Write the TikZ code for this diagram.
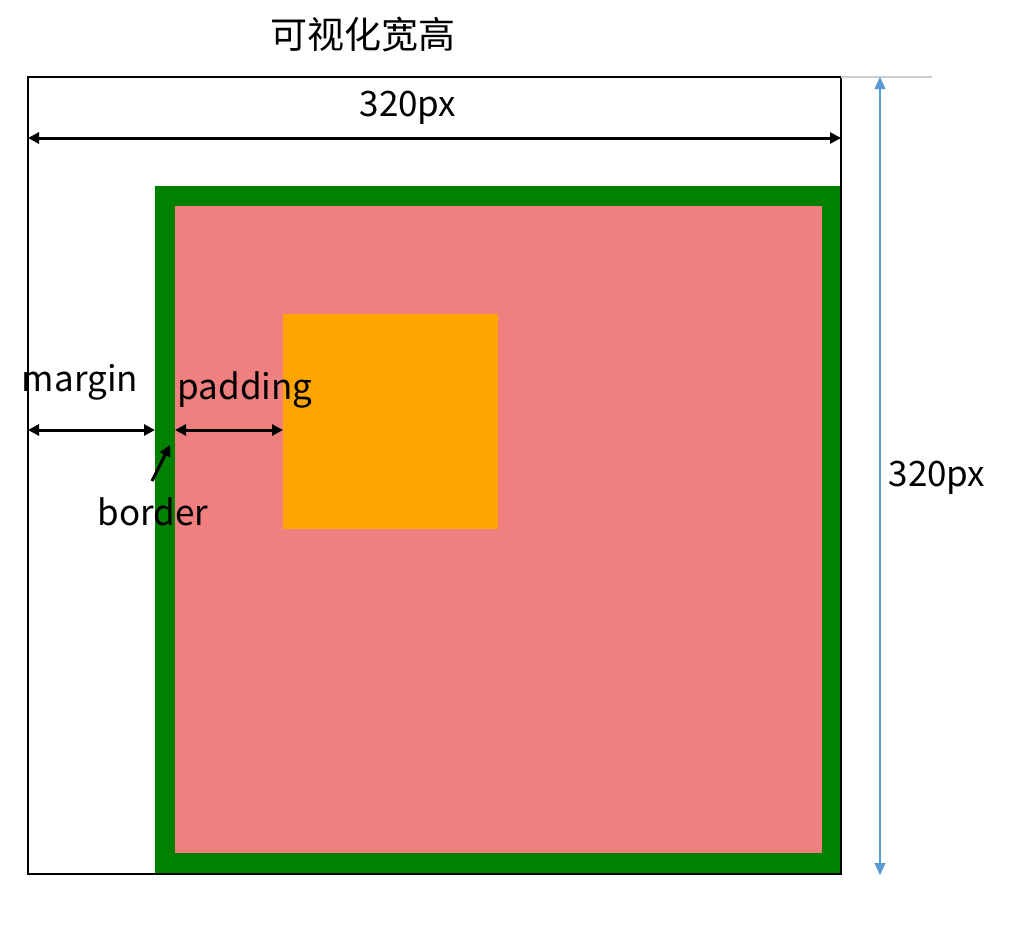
\documentclass[tikz,border=0pt]{standalone}
\usepackage{fontspec}
\setmainfont{Noto Sans CJK SC}
\usetikzlibrary{arrows.meta}
\definecolor{pinkfill}{HTML}{F08080}
\definecolor{greenb}{HTML}{008000}
\definecolor{orangefill}{HTML}{FFA500}
\definecolor{bluearr}{HTML}{5B9BD5}
\tikzset{
  lbl/.style={inner sep=0pt, font=\fontsize{35}{40}\selectfont},
  dim/.style={black, line width=3pt, {Triangle[length=11pt,width=11pt]}-{Triangle[length=11pt,width=11pt]}},
}
\begin{document}
\begin{tikzpicture}[x=1pt,y=-1pt]
\useasboundingbox (0,0) rectangle (1009,930);
% outer viewport
\draw[line width=2pt] (28,77) rectangle (841,874);
% border (green)
\fill[greenb] (155,186) rectangle (842,873);
% padding area
\fill[pinkfill] (175,206) rectangle (822,853);
% content
\fill[orangefill] (283,314) rectangle (498,529);
% redraw right/bottom black edge over green
\draw[line width=2pt] (841,186) -- (841,874) -- (155,874);
% grey guide
\draw[black!20, line width=1.2pt] (841,77) -- (932,77);
% coordinates
\coordinate (vl) at (28,138);
\coordinate (vr) at (841,138);
\coordinate (ml) at (28,430);
\coordinate (mr) at (155,430);
\coordinate (pl) at (175,430);
\coordinate (pr) at (283,430);
\coordinate (bs) at (152,481);
\coordinate (be) at (170,445);
\coordinate (ht) at (880,77);
\coordinate (hb) at (880,875);
% labels
\node[inner sep=0pt, font=\fontsize{37}{42}\selectfont] (title) at (363,35) {可视化宽高};
\node[lbl] (w) at (408,108) {320px};
\node[lbl] (h) at (937,478) {320px};
\node[lbl] (margin) at (80,382) {margin};
\node[lbl] (padding) at (245,390) {padding};
\node[lbl] (border) at (153,512) {border};
% dimension arrows
\draw[dim] (vl) -- (vr);
\draw[dim] (ml) -- (mr);
\draw[dim] (pl) -- (pr);
\draw[black, line width=3pt, -{Triangle[length=11pt,width=11pt]}] (bs) -- (be);
\draw[bluearr, line width=1.3pt, {Triangle[length=12pt,width=11pt]}-{Triangle[length=12pt,width=11pt]}] (ht) -- (hb);
\end{tikzpicture}
\end{document}
